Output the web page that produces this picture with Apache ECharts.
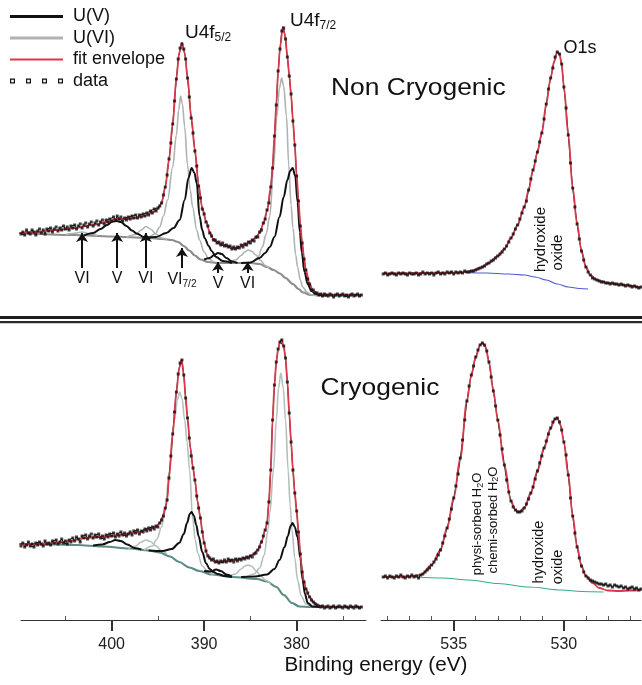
<!DOCTYPE html>
<html>
<head>
<meta charset="utf-8">
<script src="https://cdn.jsdelivr.net/npm/echarts@6/dist/echarts.min.js"></script>
<style>html,body{margin:0;padding:0;background:#fff;}#chart{width:642px;height:685px;}</style>
</head>
<body>
<div id="chart"></div>
<script>
// ---------- DATA ----------
// U4f binding energies (eV), 0.2 eV steps
const u4fEnergy = [
410,409.8,409.6,409.4,409.2,409,408.8,408.6,408.4,408.2,
408,407.8,407.6,407.4,407.2,407,406.8,406.6,406.4,406.2,
406,405.8,405.6,405.4,405.2,405,404.8,404.6,404.4,404.2,
404,403.8,403.6,403.4,403.2,403,402.8,402.6,402.4,402.2,
402,401.8,401.6,401.4,401.2,401,400.8,400.6,400.4,400.2,
400,399.8,399.6,399.4,399.2,399,398.8,398.6,398.4,398.2,
398,397.8,397.6,397.4,397.2,397,396.8,396.6,396.4,396.2,
396,395.8,395.6,395.4,395.2,395,394.8,394.6,394.4,394.2,
394,393.8,393.6,393.4,393.2,393,392.8,392.6,392.4,392.2,
392,391.8,391.6,391.4,391.2,391,390.8,390.6,390.4,390.2,
390,389.8,389.6,389.4,389.2,389,388.8,388.6,388.4,388.2,
388,387.8,387.6,387.4,387.2,387,386.8,386.6,386.4,386.2,
386,385.8,385.6,385.4,385.2,385,384.8,384.6,384.4,384.2,
384,383.8,383.6,383.4,383.2,383,382.8,382.6,382.4,382.2,
382,381.8,381.6,381.4,381.2,381,380.8,380.6,380.4,380.2,
380,379.8,379.6,379.4,379.2,379,378.8,378.6,378.4,378.2,
378,377.8,377.6,377.4,377.2,377,376.8,376.6,376.4,376.2,
376,375.8,375.6,375.4,375.2,375,374.8,374.6,374.4,374.2,
374,373.8,373.6,373.4,373.2,373];
// Non cryogenic U4f measured intensity (arb. units)
const u4fTopData = [
69,66,68,65,70,67,66,70,68,65,
69,71,67,70,66,71,69,72,68,71,
73,69,72,70,74,71,73,70,74,72,
75,71,74,76,72,75,77,73,76,78,
74,77,79,75,78,80,76,80,78,81,
79,83,80,84,81,83,79,82,80,83,
81,84,82,85,82,85,83,86,84,87,
85,89,87,91,89,92,94,97,105,113,
125,141,157,176,199,221,241,252,256,251,
241,222,203,182,167,149,134,114,102,91,
86,78,74,67,64,60,60,57,58,55,
57,54,55,53,54,51,53,51,53,52,
55,53,56,55,58,57,60,59,63,63,
68,70,77,81,90,97,113,132,164,195,
229,251,269,272,261,243,224,206,179,155,
124,99,74,57,41,30,21,16,10,10,
7,7,5,6,4,6,5,4,6,5,
3,5,6,4,5,6,4,5,3,5,
6,4,5,6,4,5];
// Cryogenic U4f measured intensity
const u4fBottomData = [
76,74,77,73,75,78,74,76,73,77,
75,78,76,74,79,76,77,75,79,77,
80,76,78,81,77,79,76,80,78,82,
79,83,81,78,84,82,85,81,84,86,
82,85,83,86,82,84,81,85,83,86,
84,87,83,86,84,88,85,87,84,86,
88,85,89,87,90,86,89,88,91,89,
92,90,93,91,94,93,97,100,104,112,
120,142,164,186,208,228,246,257,260,245,
222,202,182,164,152,140,124,112,102,88,
77,69,64,62,60,61,58,59,57,59,
58,60,58,61,59,60,58,61,59,61,
60,62,61,63,62,64,63,66,67,70,
73,78,84,90,97,118,150,200,235,258,
271,278,280,274,262,238,207,178,150,127,
109,88,66,48,38,31,27,23,20,18,
16,15,14,13,14,12,13,14,12,13,
14,12,13,14,13,12,14,13,12,14,
13,12,14,13,12,13];
// O1s binding energies (eV), 0.1 eV steps
const o1sEnergy = [
538.2,538.1,538,537.9,537.8,537.7,537.6,537.5,537.4,537.3,
537.2,537.1,537,536.9,536.8,536.7,536.6,536.5,536.4,536.3,
536.2,536.1,536,535.9,535.8,535.7,535.6,535.5,535.4,535.3,
535.2,535.1,535,534.9,534.8,534.7,534.6,534.5,534.4,534.3,
534.2,534.1,534,533.9,533.8,533.7,533.6,533.5,533.4,533.3,
533.2,533.1,533,532.9,532.8,532.7,532.6,532.5,532.4,532.3,
532.2,532.1,532,531.9,531.8,531.7,531.6,531.5,531.4,531.3,
531.2,531.1,531,530.9,530.8,530.7,530.6,530.5,530.4,530.3,
530.2,530.1,530,529.9,529.8,529.7,529.6,529.5,529.4,529.3,
529.2,529.1,529,528.9,528.8,528.7,528.6,528.5,528.4,528.3,
528.2,528.1,528,527.9,527.8,527.7,527.6,527.5,527.4,527.3,
527.2,527.1,527,526.9,526.8,526.7,526.6,526.5];
const o1sTopData = [
26,27,25,26,27,26,25,27,26,27,
26,25,27,26,26,27,25,26,28,26,
27,26,27,25,27,28,26,27,26,28,
27,28,26,28,27,28,27,29,28,28,
29,29,30,31,32,33,34,36,37,39,
40,42,44,46,48,51,54,58,62,66,
71,75,81,87,93,99,110,121,130,139,
148,158,167,181,196,211,222,232,243,248,
246,236,213,192,165,137,112,93,76,61,
49,40,33,28,25,22,21,20,19,18,
18,17,17,16,17,16,16,15,16,15,
14,15,14,13,14,13,12,13];
const o1sBottomData = [
43,44,42,44,43,42,44,43,45,43,
42,44,43,45,43,44,42,45,46,48,
50,52,55,58,61,65,70,77,84,92,
101,111,122,134,146,162,180,200,219,234,
245,254,263,270,275,277,275,269,258,243,
229,214,200,185,171,155,140,128,119,113,
110,108,108,109,112,116,121,127,133,141,
149,157,164,172,179,186,192,198,201,202,
198,190,178,165,145,122,104,87,73,62,
54,48,44,42,40,39,38,37,36,36,
35,36,34,35,33,35,34,33,34,32,
33,31,32,33,31,32,30,31];

// Fit curves [energy, intensity] - Non cryogenic U4f
const topBg = [[410,67],[404,65],[400,63.5],[396,62],[394.5,61],[393.5,60],[392.8,58],[392.2,54],[391.6,49.5],[391,44.5],[390.4,40.5],[389.6,38],[388.5,37],[385,37],[384,36],[383.2,33],[382.5,30],[381.8,26.5],[381.2,22],[380.4,16],[379.8,11],[379.3,7.5],[378.5,5],[377,4.5],[373,4.5]];
const topUVI403 = [[405,65.4],[404.2,66.5],[403.2,68],[402.3,66],[401.5,64.2]];
const topUVI396 = [[398.4,62.8],[397.4,65.5],[396.8,70],[396.3,73.5],[395.8,71],[395.2,66],[394.6,62],[394,60.8]];
const topUVI52 = [[396,62],[395.3,66],[394.8,73],[394.4,84],[393.95,100],[393.4,133],[393,165],[392.75,190],[392.55,204],[392.35,196],[392.1,173],[391.8,135],[391.5,110],[391.25,93],[390.8,70],[390.5,60],[390,48],[389.5,41],[389,38]];
const topUVI385 = [[387.5,37.2],[386.6,40],[386,44.5],[385.6,48],[385.25,50],[384.9,49],[384.4,45],[383.9,39.5],[383.4,34.5],[383,32]];
const topUVI72 = [[384.8,37],[384.2,42],[383.7,53],[383.3,66],[382.9,84],[382.5,132],[382.15,183],[381.85,212],[381.62,222],[381.4,214],[381.1,184],[380.85,135],[380.6,95],[380.4,72],[380.1,45],[379.9,33],[379.6,20],[379.35,13],[378.9,8],[378.4,5],[377.8,4.5]];
const topUV399 = [[403,64.5],[402,67],[401.2,71],[400.5,75],[399.9,78.5],[399.45,79],[399,78],[398.4,74],[397.8,69.5],[397.3,66.5],[396.5,63],[395.8,62]];
const topUV52 = [[396.5,62],[395.2,63],[394.1,67],[393.3,72],[392.65,80],[392.1,100],[391.7,122],[391.35,132],[391.05,127],[390.8,117],[390.5,84],[390.2,70],[389.95,62],[389.5,54],[389.2,49],[388.7,43],[388,39],[387,37]];
const topUV388 = [[390,40.5],[389.4,42],[388.9,45],[388.5,47],[388.1,46],[387.6,42],[387,38.5],[386.4,37]];
const topUV72 = [[386,37],[385,37.5],[384,42],[383.4,47],[382.9,53],[382.4,63],[381.85,83],[381.4,103],[381,120],[380.7,129],[380.43,132],[380.15,124],[379.9,98],[379.65,68],[379.45,48],[379.15,28],[378.8,16],[378.4,9],[377.9,6],[377.4,5],[376.8,4.5]];
const topEnvelope = [[410,67],[408,68],[406,70],[404,72],[402,75],[400.5,78],[399.5,81],[398.5,81],[397.5,82],[396.5,84],[395.5,88],[395,91],[394.6,97],[394.2,113],[393.8,140],[393.4,176],[393,222],[392.7,247],[392.4,257],[392.1,247],[391.8,223],[391.4,183],[391,150],[390.6,115],[390.2,92],[389.8,79],[389.4,68],[389,61],[388.4,57],[387.6,54.5],[386.8,52],[386.2,53],[385.6,55],[385,58.5],[384.4,62],[384,67],[383.6,76],[383.2,89],[382.8,112],[382.6,133],[382.4,163],[382.2,196],[382,228],[381.8,252],[381.5,273],[381.25,265],[381,243],[380.8,225],[380.6,205],[380.4,180],[380.2,155],[380,125],[379.8,100],[379.6,75],[379.4,57],[379.2,42],[379,30],[378.6,16],[378.2,9],[377.6,6],[376.5,5],[373,5]];

// Fit curves - Cryogenic U4f
const botBg = [[410,76],[406,75.5],[403.8,75],[401,73.5],[398,71.5],[396,69.5],[394.8,67.5],[393.7,63.5],[392.7,58],[391.6,52.5],[390.5,49],[389.2,45.5],[387,43],[384.3,41],[383.2,38.5],[382.2,33],[381.4,25],[380.5,17],[379.7,13.5],[378.5,13],[373,13]];
const botUVI396 = [[398.2,71.5],[397.4,74],[396.8,78],[396.3,80],[395.8,78.5],[395.2,74],[394.6,69],[394,66]];
const botUVI52 = [[396.5,70],[395.6,74],[395.1,81],[394.6,93],[394.25,107],[393.75,150],[393.2,200],[392.9,220],[392.65,228],[392.4,222],[392.1,200],[391.85,178],[391.57,150],[391.25,102],[390.95,80],[390.7,67],[390.2,54],[389.6,48],[389,45]];
const botUVI385 = [[387.5,43],[386.6,46],[386,51],[385.6,54],[385.25,55],[384.9,54],[384.4,49.5],[383.9,44],[383.3,39.5],[382.8,36]];
const botUVI72 = [[385.5,42.5],[384.6,46],[384,52],[383.5,65],[383.1,90],[382.9,107],[382.5,150],[382.2,200],[381.95,232],[381.7,247],[381.45,232],[381.2,200],[380.92,150],[380.7,115],[380.5,90],[380.2,62],[379.9,40],[379.5,24],[379,16],[378.4,13.5],[377.5,13]];
const botUV399 = [[402,74.5],[401,75.5],[400.2,78],[399.6,80],[399,79],[398.3,75.5],[397.5,72],[396.8,70.5]];
const botUV52 = [[396,69.5],[394.5,69],[393.5,71],[392.7,77],[392.2,86],[391.85,97],[391.55,106],[391.35,108],[391.1,104],[390.85,95],[390.6,84],[390.2,68],[389.8,57],[389.4,51],[389,48],[388.5,46],[387.8,44],[387,43]];
const botUV388 = [[390,49],[389.3,48.5],[388.7,50.5],[388.2,49],[387.6,45.5],[387,43.5]];
const botUV72 = [[386,43],[384.5,43.5],[383.2,45.5],[382.4,51],[381.85,60],[381.3,73],[380.95,84],[380.65,94],[380.43,97],[380.2,93],[379.9,83],[379.6,62],[379.35,40],[379.1,26],[378.8,17],[378.3,13.5],[377.5,13]];
const botEnvelope = [[410,75.5],[408,76],[406,77],[404.5,79],[403,82],[401.5,83],[400,84],[398.5,86],[397,88],[396,90.5],[395.2,93],[394.8,97],[394.5,103],[394.2,112],[394,120],[393.8,142],[393.4,186],[393,228],[392.7,252],[392.43,260],[392.2,245],[392,222],[391.8,202],[391.5,173],[391.2,152],[391,140],[390.7,118],[390.4,102],[390.2,88],[390,77],[389.7,66],[389.3,61],[388.6,58],[387.5,59],[386.5,60],[385.5,62],[384.8,65],[384.2,70],[383.8,78],[383.4,90],[383.2,97],[383,118],[382.8,150],[382.6,200],[382.4,235],[382.2,258],[382,271],[381.8,278],[381.62,280],[381.4,274],[381.2,262],[381,238],[380.8,207],[380.6,178],[380.4,150],[380.2,127],[380,109],[379.8,88],[379.6,66],[379.4,48],[379.2,38],[379,31],[378.6,23],[378.2,18],[377.6,14],[376.5,13],[373,13]];

// Fit curves - O1s
const topO1sBg = [[534.5,27.5],[533.5,27],[532.5,26],[531.8,25],[531.3,23],[530.8,20],[530.3,16],[529.8,13],[529.3,11.5],[528.9,11]];
const topO1sEnvelope = [[538.2,26.5],[536,27],[534.6,27.5],[534.2,29],[533.8,32],[533.4,37],[533,44],[532.7,51],[532.4,62],[532.1,75],[531.8,93],[531.6,110],[531.4,130],[531.2,148],[531,167],[530.8,196],[530.6,222],[530.45,238],[530.3,248],[530.2,246],[530.1,236],[530,213],[529.8,165],[529.6,112],[529.4,76],[529.2,49],[529,33],[528.8,25],[528.5,20],[528,17],[527.3,15],[526.5,12.5]];
const botO1sBg = [[536.7,43],[535.5,42],[534.3,40],[533,36.5],[531.6,33],[530.1,30],[529.2,28.5],[528.2,28]];
const botO1sEnvelope = [[538.2,43],[537,43.5],[536.5,45],[536,55],[535.6,70],[535.3,92],[535,122],[534.7,162],[534.4,219],[534.2,245],[534,263],[533.8,275],[533.7,277],[533.55,273],[533.4,258],[533.2,229],[533,200],[532.7,155],[532.4,119],[532.2,110],[532.05,108],[531.8,112],[531.5,127],[531.2,149],[530.9,172],[530.6,192],[530.4,201],[530.3,202],[530.15,195],[530,178],[529.8,145],[529.6,104],[529.4,73],[529.2,54],[529,44],[528.7,37],[528.4,32],[528,29.5],[527.5,29],[527,29.5],[526.5,30]];

// Satellite arrows (energy, base and tip intensity)
const arrowMarks = [
  {label:'VI', energy:403.2, base:32, tip:67},
  {label:'V', energy:399.4, base:32, tip:67},
  {label:'VI', energy:396.3, base:32, tip:67},
  {label:'{a|VI}{s|7/2}', energy:392.4, base:32, tip:52},
  {label:'V', energy:388.5, base:27, tip:38},
  {label:'VI', energy:385.3, base:27, tip:38}
];
const u4fMajorTicks = [380, 390, 400];
const u4fMinorTicks = [375, 385, 395, 405];
const o1sMajorTicks = [530, 535];
const o1sMinorTicks = [527, 528, 529, 531, 532, 533, 534, 536, 537, 538];

// ---------- CHART ----------
const FONT = 'Liberation Sans, Arial, Helvetica, sans-serif';
const zip = (xs, ys) => xs.map((x, i) => [x, ys[i]]);
const chart = echarts.init(document.getElementById('chart'), null, {renderer:'canvas', width:642, height:685});

function curve(name, data, g, color, width, z) {
  return {type:'line', name, data, xAxisIndex:g, yAxisIndex:g, smooth:0.35, smoothMonotone:'x',
    symbol:'none', silent:true, z, lineStyle:{color, width}, itemStyle:{color}};
}
function dataLine(data, g) {
  return {type:'line', name:'data', data, xAxisIndex:g, yAxisIndex:g, symbol:'none', silent:true, z:4,
    lineStyle:{color:'#1a1a1a', width:1}, itemStyle:{color:'#111'}};
}
function dataDots(data, g) {
  return {type:'scatter', name:'data', data, xAxisIndex:g, yAxisIndex:g, symbol:'rect', symbolSize:3,
    silent:true, z:6, itemStyle:{color:'#111'}};
}
const RED = '#d9394a', UV = '#111111', UVI_T = '#afb3b3', UVI_B = '#b5c0bc';

const series = [];
// top-left: non cryogenic U4f
series.push(curve('bg1', topBg, 0, '#8d8d8d', 2.2, 2));
[topUVI403, topUVI396, topUVI52, topUVI385, topUVI72].forEach(d => series.push(curve('U(VI)', d, 0, UVI_T, 1.6, 3)));
[topUV399, topUV52, topUV388, topUV72].forEach(d => series.push(curve('U(V)', d, 0, UV, 2, 3)));
series.push(dataLine(zip(u4fEnergy, u4fTopData), 0));
series.push(curve('fit envelope', topEnvelope, 0, RED, 1.8, 5));
series.push(dataDots(zip(u4fEnergy, u4fTopData), 0));
series.push({type:'line', name:'arrows', xAxisIndex:0, yAxisIndex:0, data:[], silent:true, z:7,
  markLine:{silent:true, symbol:['none','arrow'], symbolSize:9, animation:false,
    lineStyle:{color:'#111', width:2, type:'solid'},
    label:{show:true, position:'start', distance:3, formatter:p => p.name, fontSize:16, color:'#111', fontFamily:FONT,
      rich:{a:{fontSize:16, color:'#111', fontFamily:FONT}, s:{fontSize:10, color:'#111', fontFamily:FONT, padding:[8,0,0,0]}}},
    emphasis:{disabled:true},
    data: arrowMarks.map(m => [{coord:[m.energy, m.base], name:m.label}, {coord:[m.energy, m.tip]}])}});
// top-right: non cryogenic O1s
series.push(curve('bg2', topO1sBg, 1, '#4a5ad4', 1.2, 2));
series.push(dataLine(zip(o1sEnergy, o1sTopData), 1));
series.push(curve('fit envelope', topO1sEnvelope, 1, RED, 1.8, 5));
series.push(dataDots(zip(o1sEnergy, o1sTopData), 1));
// bottom-left: cryogenic U4f
series.push(curve('bg3', botBg, 2, '#5e8b84', 2.2, 2));
[botUVI396, botUVI52, botUVI385, botUVI72].forEach(d => series.push(curve('U(VI)', d, 2, UVI_B, 1.6, 3)));
[botUV399, botUV52, botUV388, botUV72].forEach(d => series.push(curve('U(V)', d, 2, UV, 2, 3)));
series.push(dataLine(zip(u4fEnergy, u4fBottomData), 2));
series.push(curve('fit envelope', botEnvelope, 2, RED, 1.8, 5));
series.push(dataDots(zip(u4fEnergy, u4fBottomData), 2));
// bottom-right: cryogenic O1s
series.push(curve('bg4', botO1sBg, 3, '#33ad8c', 1.2, 2));
series.push(dataLine(zip(o1sEnergy, o1sBottomData), 3));
series.push(curve('fit envelope', botO1sEnvelope, 3, RED, 1.8, 5));
series.push(dataDots(zip(o1sEnergy, o1sBottomData), 3));

const U4F_RANGE = {min:372.5, max:409.8};
const O1S_RANGE = {min:526.5, max:538.3};
function hiddenX(g, r) {
  return Object.assign({gridIndex:g, type:'value', inverse:true, show:false}, r);
}
function majorX(g, r, ticks) {
  return Object.assign({gridIndex:g, type:'value', inverse:true, position:'bottom',
    axisLine:{show:true, onZero:false, lineStyle:{color:'#333', width:1}},
    axisTick:{show:true, customValues:ticks, length:11, lineStyle:{color:'#333', width:2}},
    axisLabel:{show:true, customValues:ticks, fontSize:16, color:'#222', fontFamily:FONT, margin:17},
    splitLine:{show:false}}, r);
}
function minorX(g, r, ticks) {
  return Object.assign({gridIndex:g, type:'value', inverse:true, position:'bottom', offset:0,
    axisLine:{show:false, onZero:false},
    axisTick:{show:true, inside:true, customValues:ticks, length:4, lineStyle:{color:'#555', width:1}},
    axisLabel:{show:false}, splitLine:{show:false}}, r);
}
const yAx = g => ({gridIndex:g, type:'value', min:0, max:290, show:false});

const lineIcon = 'path://M0,0H53V3H0Z';
const thinIcon = 'path://M0,0H53V2.2H0Z';
const squaresIcon = 'path://M0,0h5v5h-5z M1.2,1.2v2.6h2.6v-2.6z M16,0h5v5h-5z M17.2,1.2v2.6h2.6v-2.6z M32,0h5v5h-5z M33.2,1.2v2.6h2.6v-2.6z M48,0h5v5h-5z M49.2,1.2v2.6h2.6v-2.6z';

const txt = (x, y, text, size, extra) => Object.assign({type:'text', x, y, silent:true,
  style:Object.assign({text, fontSize:size, fontFamily:FONT, fill:'#111', align:'left', verticalAlign:'middle'}, extra || {})});
const subRich = (big, small, pad) => ({a:{fontSize:big, fontFamily:FONT, fill:'#111'}, s:{fontSize:small, fontFamily:FONT, fill:'#111', padding:[pad,0,0,0]}});

chart.setOption({
  animation:false,
  backgroundColor:'#ffffff',
  grid:[
    {left:21, top:10, width:345, height:290},
    {left:381, top:10, width:260, height:290},
    {left:21, top:330, width:345, height:290},
    {left:381, top:330, width:260, height:290}
  ],
  xAxis:[
    hiddenX(0, U4F_RANGE), hiddenX(1, O1S_RANGE),
    majorX(2, U4F_RANGE, u4fMajorTicks), majorX(3, O1S_RANGE, o1sMajorTicks),
    minorX(2, U4F_RANGE, u4fMinorTicks), minorX(3, O1S_RANGE, o1sMinorTicks)
  ],
  yAxis:[yAx(0), yAx(1), yAx(2), yAx(3)],
  legend:{orient:'vertical', left:10, top:7.5, padding:0, itemWidth:53, itemHeight:6, itemGap:3.5,
    selectedMode:false, textStyle:{fontSize:18, color:'#111', fontFamily:FONT, padding:[0,0,0,5]},
    data:[{name:'U(V)', icon:lineIcon}, {name:'U(VI)', icon:lineIcon}, {name:'fit envelope', icon:thinIcon}, {name:'data', icon:squaresIcon}]},
  graphic:[
    {type:'line', silent:true, shape:{x1:0, y1:317.5, x2:642, y2:317.5}, style:{stroke:'#1e1e1e', lineWidth:3}},
    {type:'line', silent:true, shape:{x1:0, y1:322.2, x2:642, y2:322.2}, style:{stroke:'#2a2a2a', lineWidth:2.2}},
    txt(185, 33, '{a|U4f}{s|5/2}', 19, {rich:subRich(19, 12, 9)}),
    txt(290, 21, '{a|U4f}{s|7/2}', 19, {rich:subRich(19, 12, 9)}),
    txt(580, 48, 'O1s', 18, {align:'center'}),
    Object.assign(txt(331, 88, 'Non Cryogenic', 24), {scaleX:1.1}),
    Object.assign(txt(320.5, 388, 'Cryogenic', 24), {scaleX:1.1}),
    Object.assign(txt(376, 665, 'Binding energy (eV)', 20, {align:'center'}), {scaleX:1.035}),
    Object.assign(txt(540.5, 239.5, 'hydroxide', 15, {align:'center'}), {rotation:Math.PI/2}),
    Object.assign(txt(558, 252.5, 'oxide', 15, {align:'center'}), {rotation:Math.PI/2}),
    Object.assign(txt(477.5, 524, '{a|physi-sorbed H}{s|2}{a|O}', 13, {align:'center', rich:subRich(13, 9, 6)}), {rotation:Math.PI/2}),
    Object.assign(txt(493, 520, '{a|chemi-sorbed H}{s|2}{a|O}', 13, {align:'center', rich:subRich(13, 9, 6)}), {rotation:Math.PI/2}),
    Object.assign(txt(539, 552, 'hydroxide', 14.5, {align:'center'}), {rotation:Math.PI/2}),
    Object.assign(txt(558, 567, 'oxide', 14.5, {align:'center'}), {rotation:Math.PI/2})
  ],
  series
});
</script>
</body>
</html>
